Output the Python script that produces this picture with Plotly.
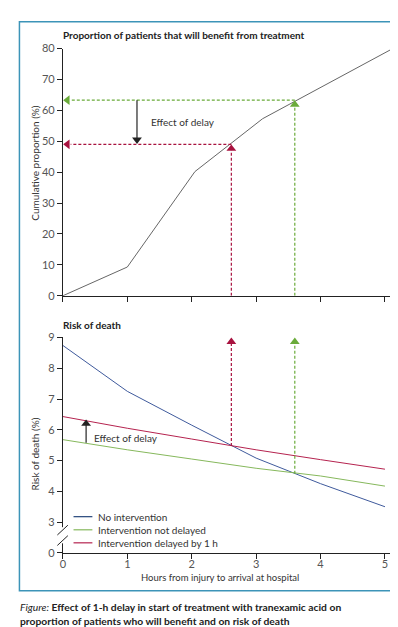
import plotly.graph_objects as go

# ---------------- data ----------------
# Top panel: cumulative proportion of patients benefiting (%)
benefit_hours = [0, 1, 2.05, 3.1, 5.12]
benefit_pct = [0, 9.3, 40.2, 57.3, 80]

# Bottom panel: risk of death (%)
risk_hours = [0, 1, 2, 3, 4, 5]
risk_none = [8.74, 7.25, 6.15, 5.08, 4.25, 3.5]
risk_not_delayed = [5.68, 5.35, 5.05, 4.75, 4.5, 4.17]
risk_delayed = [6.43, 6.05, 5.7, 5.35, 5.03, 4.72]

# Arrival times illustrated (h) and corresponding values
arrival_delayed = 2.615
arrival_not_delayed = 3.6
benefit_delayed = 49.0
benefit_not_delayed = 63.3
risk_at_delayed = 5.47
risk_at_not_delayed = 4.57
effect_x_top = 1.15
effect_x_bottom = 0.36
effect_bottom_from = 5.58
effect_bottom_to = 6.3

x_ticks = [0, 1, 2, 3, 4, 5]
top_y_ticks = [0, 10, 20, 30, 40, 50, 60, 70, 80]
bottom_y_vals = [2, 3, 4, 5, 6, 7, 8, 9]
bottom_y_text = ["0", "3", "4", "5", "6", "7", "8", "9"]

# ---------------- styling ----------------
W, H = 398, 627
FONT = "Lato, Roboto, Liberation Sans, Arial"
TXT = "#333333"
TICK = "#555555"
BLUE = "#3f5a9c"
GREEN = "#86b85c"
RED = "#b5234f"
DRED = "#a8123f"
DGREEN = "#6aab3a"
GREY = "#666666"

def px(x):
    return x / W

def py(y):
    return 1 - y / H

XDOM = [px(52.3), px(384.6)]
TOPDOM = [py(286.7), py(34.3)]
BOTDOM = [py(549.3), py(329.3)]

fig = go.Figure()

def seg(xs, ys, color, axis, dash=None, width=1.2):
    fig.add_trace(go.Scatter(x=xs, y=ys, mode="lines",
                             line=dict(color=color, width=width, dash=dash),
                             xaxis="x" + axis, yaxis="y" + axis,
                             showlegend=False, hoverinfo="skip"))

def head(x, y, symbol, color, axis):
    fig.add_trace(go.Scatter(x=[x], y=[y], mode="markers",
                             marker=dict(symbol=symbol, size=8.5, color=color),
                             xaxis="x" + axis, yaxis="y" + axis,
                             showlegend=False, hoverinfo="skip", cliponaxis=False))

# top panel
seg(benefit_hours, benefit_pct, GREY, "", width=1)
seg([arrival_delayed, arrival_delayed], [0, benefit_delayed - 2], DRED, "", "3px,2px")
seg([arrival_delayed, 0.12], [benefit_delayed, benefit_delayed], DRED, "", "3px,2px")
head(arrival_delayed, benefit_delayed - 1.4, "triangle-up", DRED, "")
head(0.07, benefit_delayed, "triangle-left", DRED, "")
seg([arrival_not_delayed, arrival_not_delayed], [0, benefit_not_delayed - 2], DGREEN, "", "3px,2px")
seg([arrival_not_delayed, 0.12], [benefit_not_delayed, benefit_not_delayed], DGREEN, "", "3px,2px")
head(arrival_not_delayed, benefit_not_delayed - 1.4, "triangle-up", DGREEN, "")
head(0.07, benefit_not_delayed, "triangle-left", DGREEN, "")
seg([effect_x_top, effect_x_top], [benefit_not_delayed, benefit_delayed + 2], "#111111", "", width=1.1)
head(effect_x_top, benefit_delayed + 1.5, "triangle-down", "#222222", "")

# bottom panel
seg(risk_hours, risk_none, BLUE, "2", width=1)
seg(risk_hours, risk_not_delayed, GREEN, "2", width=1)
seg(risk_hours, risk_delayed, RED, "2", width=1)
seg([arrival_delayed, arrival_delayed], [risk_at_delayed, 8.8], DRED, "2", "3px,2px")
head(arrival_delayed, 8.86, "triangle-up", DRED, "2")
seg([arrival_not_delayed, arrival_not_delayed], [risk_at_not_delayed, 8.8], DGREEN, "2", "3px,2px")
head(arrival_not_delayed, 8.86, "triangle-up", DGREEN, "2")
seg([effect_x_bottom, effect_x_bottom], [effect_bottom_from, effect_bottom_to - 0.1], "#111111", "2", width=1.1)
head(effect_x_bottom, effect_bottom_to - 0.1, "triangle-up", "#222222", "2")

axis_common = dict(showgrid=False, zeroline=False, showline=True, linecolor="#222222",
                   linewidth=1, ticks="outside", ticklen=5, tickcolor="#222222",
                   tickfont=dict(family=FONT, size=11, color=TICK))

fig.update_layout(
    width=W, height=H,
    margin=dict(l=0, r=0, t=0, b=0),
    paper_bgcolor="white", plot_bgcolor="white",
    font=dict(family=FONT, color=TXT),
    xaxis=dict(domain=XDOM, range=[0, 5.12], anchor="y", tickvals=x_ticks,
               showticklabels=False, **axis_common),
    yaxis=dict(domain=TOPDOM, range=[0, 80], anchor="x", tickvals=top_y_ticks, **axis_common),
    xaxis2=dict(domain=XDOM, range=[0, 5.12], anchor="y2", tickvals=x_ticks,
                ticklabelstandoff=-4, **axis_common),
    yaxis2=dict(domain=BOTDOM, range=[2, 9], anchor="x2", tickvals=bottom_y_vals,
                ticktext=bottom_y_text, **axis_common),
)

shapes = []
# frame
shapes.append(dict(type="rect", xref="paper", yref="paper", x0=px(8.5), x1=px(392.5),
                   y0=py(588), y1=py(7), line=dict(color="#3c94b8", width=1.5)))
# axis break
shapes.append(dict(type="line", xref="paper", yref="paper", x0=px(52.3), x1=px(52.3),
                   y0=py(523), y1=py(539.5), line=dict(color="white", width=3)))
shapes.append(dict(type="line", xref="paper", yref="paper", x0=px(46.7), x1=px(57.3),
                   y0=py(531), y1=py(521), line=dict(color="#222222", width=1)))
shapes.append(dict(type="line", xref="paper", yref="paper", x0=px(46.7), x1=px(57.3),
                   y0=py(541.7), y1=py(531.7), line=dict(color="#222222", width=1)))
# legend samples
legend_items = [("No intervention", "#24457a", 512.3),
                ("Intervention not delayed", GREEN, 525.7),
                ("Intervention delayed by 1 h", RED, 539)]
for label, col, yy in legend_items:
    shapes.append(dict(type="line", xref="paper", yref="paper", x0=px(63), x1=px(82),
                       y0=py(yy), y1=py(yy), line=dict(color=col, width=1.2)))
fig.update_layout(shapes=shapes)

ann = []
def text(x, y, s, size=10, xanchor="left", angle=0, color=TXT):
    ann.append(dict(x=px(x), y=py(y), xref="paper", yref="paper", text=s, showarrow=False,
                    xanchor=xanchor, yanchor="middle", textangle=angle,
                    font=dict(family=FONT, size=size, color=color)))

text(50.5, 20.5, "<b>Proportion of patients that will benefit from treatment</b>", 10, color="#222222")
text(50.5, 316.5, "<b>Risk of death</b>", 10, color="#222222")
text(24, 151, "Cumulative proportion (%)", 10, "center", -90)
text(24, 448, "Risk of death (%)", 10, "center", -90)
text(139.5, 109, "Effect of delay", 10)
text(81.5, 431.5, "Effect of delay", 10)
text(211, 574, "Hours from injury to arrival at hospital", 9.5, "center")
for label, col, yy in legend_items:
    text(85.5, yy, label, 10)
text(7.5, 605, "<i>Figure:</i><b> Effect of 1-h delay in start of treatment with tranexamic acid on</b>", 10.3, color="#222222")
text(7.5, 619, "<b>proportion of patients who will benefit and on risk of death</b>", 10.3, color="#222222")
fig.update_layout(annotations=ann)

fig.write_html("out.html")
